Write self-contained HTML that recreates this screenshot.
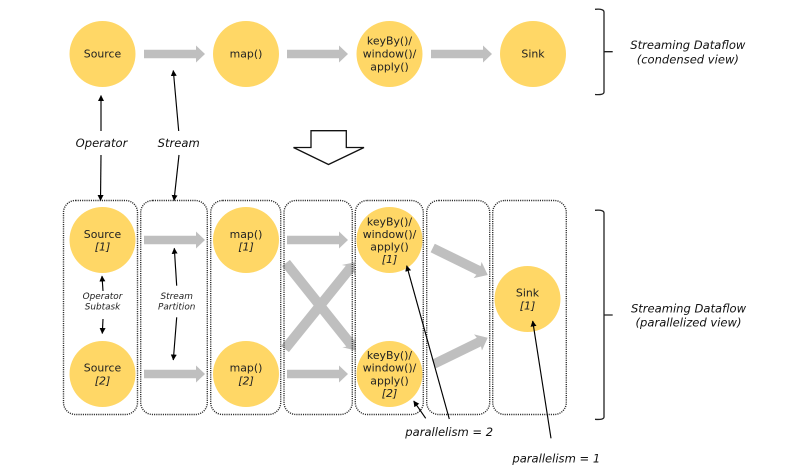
<!DOCTYPE html>
<html>
<head>
<meta charset="utf-8">
<style>
html,body{margin:0;padding:0;background:#fff;width:799px;height:469px;overflow:hidden}
svg{display:block}
text{font-family:"DejaVu Sans","Liberation Sans",sans-serif;fill:#222;text-anchor:middle;dominant-baseline:central;transform:translateY(.2px)}
.n{font-size:10.9px}
.i{font-style:italic;font-size:11px}
.l{font-style:italic;font-size:11.55px;fill:#111}
.s{font-style:italic;font-size:8.9px}
.c{fill:#ffd766}
.g{fill:#bfbfbf}
.b{fill:none;stroke:#2a2a2a;stroke-width:1.4;stroke-dasharray:1.1 1.1}
.t{stroke:#000;stroke-width:1.15;fill:none;marker-end:url(#m)}
</style>
</head>
<body>
<svg width="799" height="469" viewBox="0 0 799 469" xmlns="http://www.w3.org/2000/svg">
<defs>
<marker id="m" markerUnits="userSpaceOnUse" markerWidth="8" markerHeight="8" refX="5.5" refY="3" orient="auto"><path d="M0 0L6 3L0 6Z" fill="#000"/></marker>
<polygon id="a" points="0,-4.3 52,-4.3 52,-8.5 61,0 52,8.5 52,4.3 0,4.3" class="g"/>
</defs>

<!-- top row thick arrows -->
<use href="#a" x="144" y="54"/>
<use href="#a" x="287" y="54"/>
<use href="#a" x="431" y="54"/>

<!-- bottom row thick arrows -->
<use href="#a" x="144" y="240"/>
<use href="#a" x="144" y="374"/>
<use href="#a" x="287" y="240"/>
<use href="#a" x="287" y="374"/>
<g class="g">
<polygon transform="translate(286,263) rotate(51.4)" points="0,-5 103,-5 101,-8.5 112.2,0 101,8.5 103,5 0,5"/>
<polygon transform="translate(285,349) rotate(-51.1)" points="0,-5 103,-5 101,-8.5 111.4,0 101,8.5 103,5 0,5"/>
<polygon transform="translate(432.7,248) rotate(26.1)" points="0,-4.8 51,-4.8 50,-9 61.3,0 50,9 51,4.8 0,4.8"/>
<polygon transform="translate(434,364) rotate(-26.1)" points="0,-4.8 50,-4.8 49,-9 59.8,0 49,9 50,4.8 0,4.8"/>
</g>

<!-- dotted boxes -->
<rect class="b" x="63.5" y="200.5" width="74" height="214" rx="12"/>
<rect class="b" x="140.7" y="200.5" width="66.6" height="214" rx="12"/>
<rect class="b" x="210.7" y="200.5" width="70" height="214" rx="12"/>
<rect class="b" x="284" y="200.5" width="68.3" height="214" rx="12"/>
<rect class="b" x="355.3" y="200.5" width="68" height="214" rx="12"/>
<rect class="b" x="426.7" y="200.5" width="63" height="214" rx="12"/>
<rect class="b" x="492.7" y="200.5" width="73.6" height="214" rx="12"/>

<!-- circles -->
<circle class="c" cx="102.5" cy="54" r="33"/>
<circle class="c" cx="246" cy="54" r="33"/>
<circle class="c" cx="389.5" cy="54" r="33"/>
<circle class="c" cx="533" cy="54" r="33"/>
<circle class="c" cx="102.5" cy="240" r="33"/>
<circle class="c" cx="102.5" cy="374" r="33"/>
<circle class="c" cx="246" cy="240" r="33"/>
<circle class="c" cx="246" cy="374" r="33"/>
<circle class="c" cx="389.5" cy="240" r="33"/>
<circle class="c" cx="389.5" cy="374" r="33"/>
<circle class="c" cx="527.5" cy="299" r="33"/>

<!-- thin arrows -->
<line class="t" x1="101" y1="131" x2="101" y2="95.5"/>
<line class="t" x1="101" y1="155" x2="100.5" y2="200.5"/>
<line class="t" x1="178.7" y1="131" x2="173.3" y2="70.5"/>
<line class="t" x1="179" y1="155" x2="174" y2="200.5"/>
<line class="t" x1="103" y1="291" x2="102" y2="276"/>
<line class="t" x1="103" y1="319" x2="102.3" y2="333.5"/>
<line class="t" x1="176.7" y1="285.7" x2="174.3" y2="248.3"/>
<line class="t" x1="176.7" y1="317.3" x2="173.3" y2="360"/>
<line class="t" x1="449.3" y1="419" x2="406.7" y2="265.7"/>
<line class="t" x1="425.7" y1="418.3" x2="413.7" y2="401"/>
<line class="t" x1="551" y1="438.3" x2="532.7" y2="321"/>

<!-- block arrow -->
<polygon points="311,130.7 346.3,130.7 346.3,147.5 364,147.5 328.5,164.5 293.5,147.5 311,147.5" fill="#fff" stroke="#111" stroke-width="1.3"/>

<!-- braces -->
<path d="M595 9.3Q604 8.5 604 12V92Q604 95.2 595 94.5M604 51.7H612.7" fill="none" stroke="#222" stroke-width="1.3"/>
<path d="M595 210.3Q604 209.5 604 213V417Q604 420 595 419.3M604 315H612.7" fill="none" stroke="#222" stroke-width="1.3"/>

<!-- node text -->
<text class="n" x="102.5" y="54">Source</text>
<text class="n" x="246" y="54">map()</text>
<text class="n" x="389.5" y="41">keyBy()/</text>
<text class="n" x="389.5" y="54">window()/</text>
<text class="n" x="389.5" y="67">apply()</text>
<text class="n" x="533" y="54">Sink</text>

<text class="n" x="102.5" y="234.3">Source</text>
<text class="i" x="102.5" y="247">[1]</text>
<text class="n" x="102.5" y="367.7">Source</text>
<text class="i" x="102.5" y="380.7">[2]</text>
<text class="n" x="246" y="234.3">map()</text>
<text class="i" x="246" y="247">[1]</text>
<text class="n" x="246" y="367.7">map()</text>
<text class="i" x="246" y="380.7">[2]</text>
<text class="n" x="389.5" y="221.7">keyBy()/</text>
<text class="n" x="389.5" y="234.3">window()/</text>
<text class="n" x="389.5" y="247">apply()</text>
<text class="i" x="389.5" y="259.3">[1]</text>
<text class="n" x="389.5" y="355.3">keyBy()/</text>
<text class="n" x="389.5" y="368">window()/</text>
<text class="n" x="389.5" y="380.7">apply()</text>
<text class="i" x="389.5" y="393.3">[2]</text>
<text class="n" x="527.5" y="292.7">Sink</text>
<text class="i" x="527.5" y="306">[1]</text>

<!-- labels -->
<text class="l" x="101.5" y="143">Operator</text>
<text class="l" x="178.7" y="143">Stream</text>
<text class="s" x="102.5" y="296.7">Operator</text>
<text class="s" x="102.5" y="307.3">Subtask</text>
<text class="s" x="176.7" y="296.7">Stream</text>
<text class="s" x="176.7" y="307.3">Partition</text>
<text class="l" x="449.2" y="432">parallelism = 2</text>
<text class="l" x="556.3" y="458.3">parallelism = 1</text>
<text class="l" x="687.8" y="45">Streaming Dataflow</text>
<text class="l" x="687.8" y="59.3">(condensed view)</text>
<text class="l" x="688.5" y="308.5">Streaming Dataflow</text>
<text class="l" x="688.5" y="322.5">(parallelized view)</text>
</svg>
</body>
</html>
